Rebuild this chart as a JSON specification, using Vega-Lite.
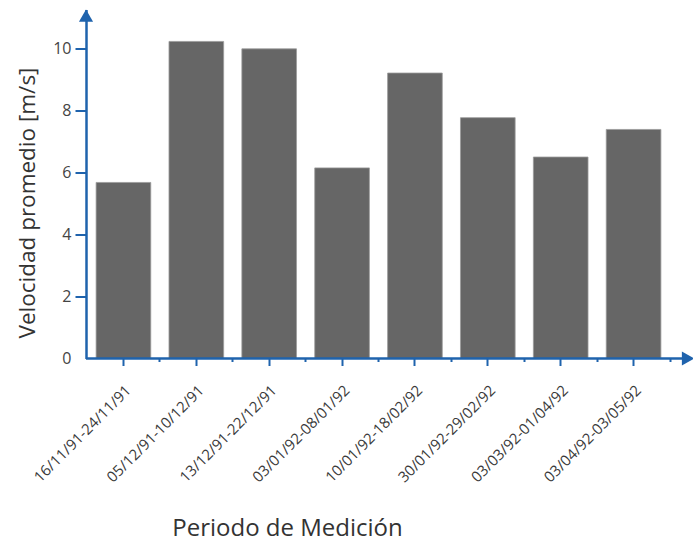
{
  "$schema": "https://vega.github.io/schema/vega-lite/v6.json",
  "width": 602,
  "height": 349,
  "autosize": "none",
  "padding": {"left": 86, "top": 9.5, "right": 5, "bottom": 183.5},
  "config": {"view": {"stroke": null}, "font": "Open Sans"},
  "data": {
    "values": [
      {"periodo": "16/11/91-24/11/91", "velocidad": 5.68},
      {"periodo": "05/12/91-10/12/91", "velocidad": 10.23},
      {"periodo": "13/12/91-22/12/91", "velocidad": 9.99},
      {"periodo": "03/01/92-08/01/92", "velocidad": 6.15},
      {"periodo": "10/01/92-18/02/92", "velocidad": 9.21},
      {"periodo": "30/01/92-29/02/92", "velocidad": 7.77},
      {"periodo": "03/03/92-01/04/92", "velocidad": 6.5},
      {"periodo": "03/04/92-03/05/92", "velocidad": 7.39}
    ]
  },
  "layer": [
    {
      "mark": {"type": "bar", "color": "#666666", "stroke": "#9a9a9a", "strokeWidth": 0.8},
      "encoding": {
        "x": {
          "field": "periodo", "type": "nominal", "sort": null,
          "scale": {"range": [1, 584], "paddingInner": 0.25, "paddingOuter": 0.125},
          "axis": {
            "labelAngle": -45, "labelFontSize": 15, "labelColor": "#3a3a3a",
            "tickSize": 7, "tickColor": "#1f63ad", "tickWidth": 2, "domain": false,
            "labelPadding": 17, "title": "Periodo de Medición", "titleFontSize": 24,
            "titleFontWeight": "normal", "titleColor": "#333333", "titleX": 201, "titleY": 177,
            "titleBaseline": "alphabetic", "titleAlign": "center", "grid": false
          }
        },
        "y": {
          "field": "velocidad", "type": "quantitative",
          "scale": {"domain": [0, 11.26], "nice": false},
          "axis": {
            "values": [0, 1, 2, 3, 4, 5, 6, 7, 8, 9, 10],
            "labelExpr": "datum.value % 2 === 0 ? datum.label : ''",
            "tickSize": {"condition": {"test": "datum.value % 2 === 0", "value": 11}, "value": 5},
            "tickOpacity": {"condition": {"test": "datum.value === 0", "value": 0}, "value": 1},
            "domainColor": "#1f63ad", "domainWidth": 2.5, "tickColor": "#1f63ad", "tickWidth": 2,
            "labelFontSize": 16, "labelColor": "#444444", "labelPadding": 4, "grid": false,
            "title": "Velocidad promedio [m/s]", "titleFontSize": 22.5, "titleFontWeight": "normal",
            "titleColor": "#333333", "titleX": -59, "titleY": 193, "titleAlign": "center",
            "titleBaseline": "middle", "titleAngle": -90
          }
        }
      }
    },
    {
      "mark": {"type": "bar", "opacity": 0},
      "encoding": {
        "x": {
          "field": "periodo", "type": "nominal", "sort": null,
          "axis": {
            "orient": "bottom", "labels": false, "bandPosition": 1.1667, "tickSize": 3,
            "tickColor": "#1f63ad", "tickWidth": 2, "domain": false, "title": null, "grid": false
          }
        },
        "y": {"field": "velocidad", "type": "quantitative"}
      }
    },
    {
      "data": {"values": [{}]},
      "mark": {"type": "rule", "color": "#1f63ad", "strokeWidth": 2.5},
      "encoding": {"x": {"value": 0}, "x2": {"value": "width"}, "y": {"datum": 0}}
    },
    {
      "data": {"values": [{}]},
      "mark": {"type": "point", "shape": "triangle-right", "filled": true, "size": 200, "color": "#1f63ad", "opacity": 1},
      "encoding": {"x": {"value": "width"}, "y": {"datum": 0}}
    },
    {
      "data": {"values": [{}]},
      "mark": {"type": "point", "shape": "triangle-up", "filled": true, "size": 200, "color": "#1f63ad", "opacity": 1},
      "encoding": {"x": {"value": 0}, "y": {"datum": 11.06}}
    }
  ],
  "resolve": {"axis": {"x": "independent"}}
}
